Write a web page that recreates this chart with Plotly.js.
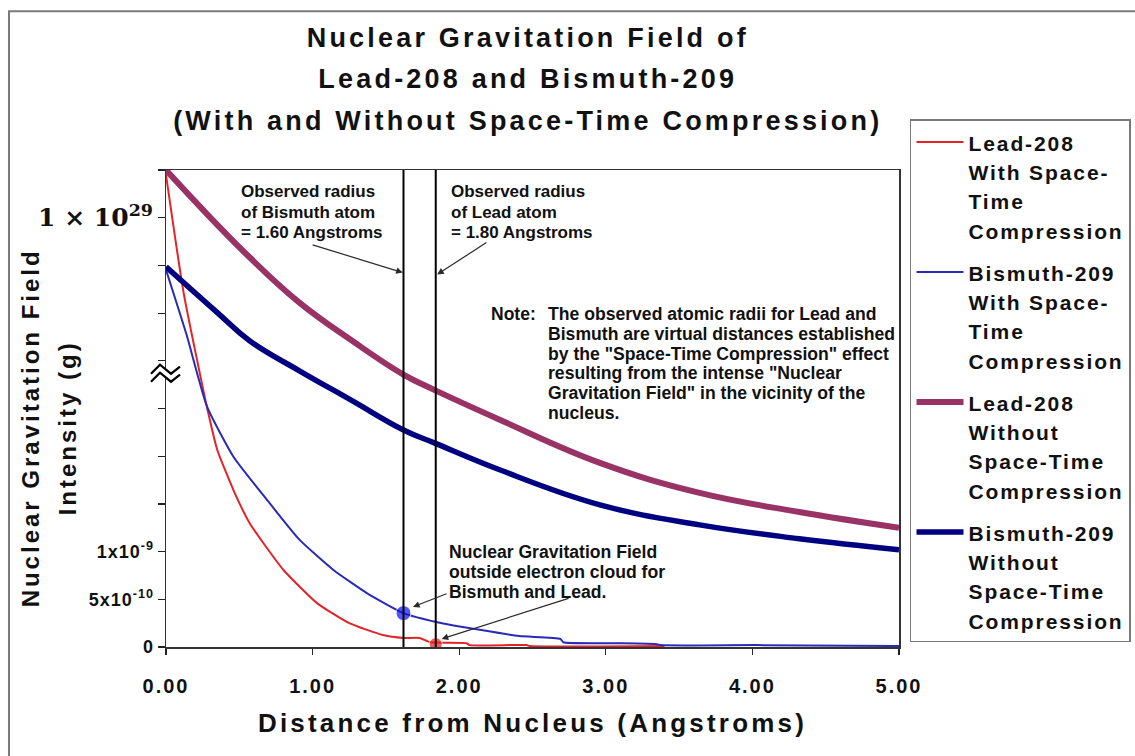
<!DOCTYPE html>
<html>
<head>
<meta charset="utf-8">
<script src="https://cdn.plot.ly/plotly-3.0.1.min.js"></script>
<style>
html, body { margin: 0; padding: 0; background: #ffffff; }
#chart { width: 1135px; height: 756px; }
.gtitle { letter-spacing: 3.2px; }
.legendtext { letter-spacing: 1.9px; }
.xtitle { letter-spacing: 3.2px; }
.ytitle { letter-spacing: 3px; }
.xtick text { letter-spacing: 2px; }
.ytick text { letter-spacing: 1px; }
</style>
</head>
<body>
<div id="chart"></div>
<script>
// ---------------- data (broken-axis display units) ----------------
const distLeadWith  = [0, 0.12, 0.28, 0.35, 0.46, 0.57, 0.80, 1.03, 1.25, 1.48, 1.62, 1.73, 1.80, 2.05, 2.07, 2.46, 2.48, 3.40];
const fieldLeadWith = [9.9, 7.43, 5.02, 4.13, 3.29, 2.60, 1.62, 0.92, 0.50, 0.25, 0.19, 0.19, 0.10, 0.08, 0.04, 0.04, 0.02, 0.02];

const distBismuthWith  = [0, 0.14, 0.28, 0.46, 0.69, 0.91, 1.14, 1.37, 1.62, 1.85, 2.14, 2.41, 2.69, 2.71, 3.05, 3.35, 3.37, 4.03, 5.0];
const fieldBismuthWith = [7.91, 6.55, 5.04, 3.99, 3.08, 2.25, 1.62, 1.13, 0.71, 0.52, 0.36, 0.23, 0.17, 0.10, 0.08, 0.06, 0.04, 0.04, 0.02];

const distLeadWithout  = [0, 0.35, 0.57, 0.91, 1.26, 1.62, 1.83, 2.28, 2.96, 3.64, 4.32, 5.0];
const fieldLeadWithout = [10.0, 8.85, 8.17, 7.22, 6.44, 5.71, 5.39, 4.76, 3.86, 3.23, 2.83, 2.50];

const distBismuthWithout  = [0, 0.35, 0.57, 0.91, 1.26, 1.62, 1.83, 2.28, 2.96, 3.64, 4.32, 5.0];
const fieldBismuthWithout = [7.97, 7.01, 6.42, 5.79, 5.18, 4.55, 4.28, 3.71, 2.98, 2.56, 2.27, 2.04];

const outsideDist  = [1.62, 1.84];   // Bismuth, Lead
const outsideField = [0.71, 0.06];
const radiusDist   = [1.62, 1.84];   // observed radii lines

const legendLeadWith       = ['Lead-208', 'With Space-', 'Time', 'Compression'];
const legendBismuthWith    = ['Bismuth-209', 'With Space-', 'Time', 'Compression'];
const legendLeadWithout    = ['Lead-208', 'Without', 'Space-Time', 'Compression'];
const legendBismuthWithout = ['Bismuth-209', 'Without', 'Space-Time', 'Compression'];

const xTickVals = [0, 1, 2, 3, 4, 5];
const xTickText = ['0.00', '1.00', '2.00', '3.00', '4.00', '5.00'];
const yTickVals = [0, 1, 2, 3, 4, 5, 6, 7, 8, 9, 10];
const yTickText = ['0', '5x10<sup>-10</sup>', '1x10<sup>-9</sup>', '', '', '', '', '', '', '', ''];
const yHighTickVals = [9];
const yHighTickText = ['1 × 10<sup>29</sup>'];
const yRange = [0, 10];
const xRange = [0, 5];

const titleLines = ['Nuclear Gravitation Field of', 'Lead-208 and Bismuth-209', '(With and Without Space-Time Compression)'];
const yTitleLines = ['Nuclear Gravitation Field', 'Intensity (g)'];

// ---------------- helpers ----------------
const F = 'Liberation Sans, Arial, Helvetica, sans-serif';
function stack(lines, px, pad) {
  return lines.map(l => '<span style="font-size:' + px + 'px">' + l + (pad || '') + '</span>').join('<br>');
}

const traces = [
  { type: 'scatter', mode: 'lines', x: distLeadWith, y: fieldLeadWith,
    name: stack(legendLeadWith, 21), legendgroup: 'g1',
    line: { color: '#e3232a', width: 2, shape: 'spline', smoothing: 0.5 } },
  { type: 'scatter', mode: 'lines', x: distBismuthWith, y: fieldBismuthWith,
    name: stack(legendBismuthWith, 21), legendgroup: 'g2',
    line: { color: '#2a2ab8', width: 2, shape: 'spline', smoothing: 0.5 } },
  { type: 'scatter', mode: 'lines', x: distLeadWithout, y: fieldLeadWithout,
    name: stack(legendLeadWithout, 21), legendgroup: 'g3',
    line: { color: '#993366', width: 6, shape: 'spline', smoothing: 1.2 } },
  { type: 'scatter', mode: 'lines', x: distBismuthWithout, y: fieldBismuthWithout,
    name: stack(legendBismuthWithout, 21), legendgroup: 'g4',
    line: { color: '#000080', width: 5.5, shape: 'spline', smoothing: 1.2 } }
];

radiusDist.forEach(function (r) {
  traces.push({ type: 'scatter', mode: 'lines', x: [r, r], y: yRange, yaxis: 'y2',
    showlegend: false, hoverinfo: 'skip', line: { color: '#000000', width: 2 } });
});

traces.push({ type: 'scatter', mode: 'markers', x: outsideDist, y: outsideField, showlegend: false,
  marker: { size: [15, 13], color: ['#1010f0', '#f01c1c'] } });

const annFont = { family: F, size: 15.2, weight: 'bold', color: '#111111' };
const arrowBase = { text: '', showarrow: true, arrowhead: 2, arrowsize: 1.1, arrowwidth: 1.2,
  arrowcolor: '#2a2a2a', axref: 'x', ayref: 'y', xref: 'x', yref: 'y', standoff: 0 };

const annotations = [
  { xref: 'x', yref: 'y', x: 0.495, y: 9.8, xanchor: 'left', yanchor: 'top', align: 'left', showarrow: false,
    text: stack(['Observed radius', 'of Bismuth atom', '= 1.60 Angstroms'], 17), font: Object.assign({}, annFont, { size: 15.8 }) },
  { xref: 'x', yref: 'y', x: 1.93, y: 9.8, xanchor: 'left', yanchor: 'top', align: 'left', showarrow: false,
    text: stack(['Observed radius', 'of Lead atom', '= 1.80 Angstroms'], 17), font: Object.assign({}, annFont, { size: 15.8 }) },
  Object.assign({}, arrowBase, { ax: 0.99, ay: 8.44, x: 1.615, y: 7.85 }),
  Object.assign({}, arrowBase, { ax: 2.196, ay: 8.50, x: 1.85, y: 7.81 }),
  { xref: 'x', yref: 'y', x: 2.2, y: 7.24, xanchor: 'left', yanchor: 'top', align: 'left', showarrow: false,
    text: stack(['Note:'], 17.5), font: annFont },
  { xref: 'x', yref: 'y', x: 2.59, y: 7.24, xanchor: 'left', yanchor: 'top', align: 'left', showarrow: false,
    text: stack(['The observed atomic radii for Lead and', 'Bismuth are virtual distances established',
      'by the "Space-Time Compression" effect', 'resulting from the intense "Nuclear',
      'Gravitation Field" in the vicinity of the', 'nucleus.'], 17.6), font: annFont },
  { xref: 'x', yref: 'y', x: 1.915, y: 2.25, xanchor: 'left', yanchor: 'top', align: 'left', showarrow: false,
    text: stack(['Nuclear Gravitation Field', 'outside electron cloud for', 'Bismuth and Lead.'], 17.6), font: annFont },
  Object.assign({}, arrowBase, { ax: 1.924, ay: 1.13, x: 1.685, y: 0.84 }),
  Object.assign({}, arrowBase, { ax: 2.756, ay: 1.03, x: 1.88, y: 0.17 })
];

const breakMark = { xref: 'paper', yref: 'paper', xsizemode: 'pixel', ysizemode: 'pixel', xanchor: 0, yanchor: 0.575, layer: 'above' };
const shapes = [
  Object.assign({}, breakMark, { type: 'path', path: 'M-15,-1 L-6,8 L5,-1 L14,6 L14,-2 L5,-9 L-6,0 L-15,-9 Z',
    fillcolor: '#ffffff', line: { width: 0 } }),
  Object.assign({}, breakMark, { type: 'path', path: 'M-15,-1 L-6,8 L5,-1 L14,6', line: { color: '#000', width: 2.2 } }),
  Object.assign({}, breakMark, { type: 'path', path: 'M-15,-9 L-6,0 L5,-9 L14,-2', line: { color: '#000', width: 2.2 } }),
  { type: 'path', xref: 'paper', yref: 'paper', path: 'M-0.2142,-0.3 L-0.2142,1.3326 L1.4,1.3326',
    line: { color: '#7a7a7a', width: 2 }, layer: 'below' }
];

const layout = {
  width: 1135, height: 756,
  margin: { l: 166, r: 236, t: 170, b: 109, autoexpand: false },
  paper_bgcolor: '#ffffff', plot_bgcolor: '#ffffff',
  font: { family: F, color: '#111111' },
  showlegend: true,
  title: {
    text: stack(titleLines, 27),
    font: { family: F, size: 32, weight: 'bold', color: '#111111' },
    x: 0.465, xref: 'container', xanchor: 'center',
    y: 0.938, yref: 'container', yanchor: 'top'
  },
  xaxis: {
    range: xRange, tickmode: 'array', tickvals: xTickVals, ticktext: xTickText,
    ticks: 'outside', ticklen: 6, tickwidth: 1.2, tickcolor: '#222',
    showline: true, linecolor: '#333', linewidth: 1.5, mirror: true,
    showgrid: false, zeroline: false, ticklabelstandoff: 14,
    tickfont: { family: F, size: 20, weight: 'bold', color: '#111' },
    title: { text: 'Distance from Nucleus (Angstroms)\u00A0\u00A0', standoff: 18,
      font: { family: F, size: 26, weight: 'bold', color: '#111' } }
  },
  yaxis: {
    range: yRange, tickmode: 'array', tickvals: yTickVals, ticktext: yTickText,
    ticks: 'outside', ticklen: 7, tickwidth: 1.2, tickcolor: '#222',
    showline: true, linecolor: '#333', linewidth: 1.5, mirror: true,
    showgrid: false, zeroline: false,
    tickfont: { family: F, size: 18, weight: 'bold', color: '#111' },
    title: { text: stack(yTitleLines, 24, '\u00A0\u00A0\u00A0\u00A0'), standoff: 4,
      font: { family: F, size: 28, weight: 'bold', color: '#111' } }
  },
  yaxis2: {
    overlaying: 'y', side: 'left', anchor: 'x', range: yRange,
    tickmode: 'array', tickvals: yHighTickVals, ticktext: yHighTickText,
    ticks: 'outside', ticklen: 7, tickwidth: 1.2, tickcolor: '#222',
    showline: false, showgrid: false, zeroline: false,
    tickfont: { family: 'DejaVu Serif, serif', size: 25, weight: 'bold', color: '#111' }
  },
  legend: {
    x: 1.015, y: 1.106, xanchor: 'left', yanchor: 'top',
    bordercolor: '#7a7a7a', borderwidth: 1.5, bgcolor: '#ffffff',
    font: { family: F, size: 22.5, weight: 'bold', color: '#111' },
    valign: 'top', itemwidth: 47, traceorder: 'grouped', tracegroupgap: 10,
    maxheight: 700
  },
  annotations: annotations,
  shapes: shapes
};

Plotly.newPlot('chart', traces, layout, { staticPlot: true, displayModeBar: false });
</script>
</body>
</html>
